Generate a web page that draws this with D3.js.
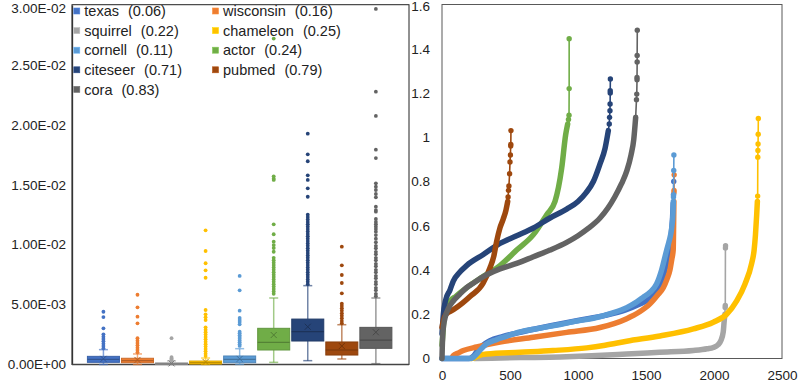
<!DOCTYPE html>
<html>
<head>
<meta charset="utf-8">
<script src="https://cdn.jsdelivr.net/npm/d3@7"></script>
<style>
  body { margin: 0; background: #fff; }
  svg text { font-family: "Liberation Sans", Arial, sans-serif; font-size: 13.5px; fill: #222; }
  svg .legend text { font-size: 14.5px; }
</style>
</head>
<body>
<script>
const names = ['texas', 'wisconsin', 'squirrel', 'chameleon', 'cornell', 'actor', 'citeseer', 'pubmed', 'cora'];
const homophily = [0.06, 0.16, 0.22, 0.25, 0.11, 0.24, 0.71, 0.79, 0.83];
const palette = ['#4472C4', '#ED7D31', '#A5A5A5', '#FFC000', '#5B9BD5', '#70AD47', '#264478', '#9E480E', '#636363'];

// box plot stats, same order as names
const q1 = [0.00018, 0.00015, 0.00001, 0.00004, 0.00015, 0.00121, 0.00196, 0.00079, 0.00135];
const median = [0.00043, 0.00032, 0.00005, 0.00015, 0.00042, 0.00185, 0.00274, 0.00121, 0.00204];
const q3 = [0.00068, 0.00052, 0.00013, 0.00029, 0.00071, 0.00302, 0.00379, 0.00188, 0.0031];
const mean = [0.00047, 0.00038, 0.00009, 0.00021, 0.00047, 0.00246, 0.00315, 0.00154, 0.00269];
const whiskerLo = [0, 0, 0, 0, 0.00001, 0.00018, 0.00032, 0.00046, 0.00007];
const whiskerHi = [0.00124, 0.00088, 0.0003, 0.00054, 0.00132, 0.00555, 0.00658, 0.00332, 0.00555];
const outliers = [
  [0.0044, 0.00396, 0.00302, 0.00252, 0.00232, 0.00213, 0.00194, 0.00174, 0.00154, 0.00135],
  [0.00582, 0.00477, 0.00399, 0.00344, 0.00219, 0.00199, 0.00179, 0.0016, 0.0014, 0.00121, 0.00102],
  [0.0022, 0.00062, 0.00052, 0.00042, 0.00035],
  [0.0112, 0.00947, 0.00845, 0.00786, 0.00724, 0.00455, 0.00419, 0.00394, 0.00371, 0.0031, 0.0029, 0.0027,
   0.0025, 0.0023, 0.0021, 0.0019, 0.0017, 0.0015, 0.0013, 0.0011, 0.0009, 0.0007],
  [0.00739, 0.00619, 0.00449, 0.00388, 0.00371, 0.00355, 0.00335, 0.00274, 0.0026, 0.00245, 0.0023, 0.00215,
   0.002, 0.00185, 0.0017, 0.00155],
  [0.0272, 0.0157, 0.0155, 0.0154, 0.0117, 0.01087, 0.01025, 0.00997, 0.00972, 0.00941, 0.0089, 0.0087, 0.0085,
   0.0083, 0.0081, 0.0079, 0.0077, 0.0075, 0.0073, 0.0071, 0.0069, 0.0067, 0.0065, 0.0063, 0.0061, 0.0059],
  [0.01926, 0.01754, 0.01696, 0.01579, 0.0154, 0.0147, 0.014, 0.0125, 0.0123, 0.0121, 0.0119, 0.0117, 0.0115,
   0.0113, 0.0111, 0.0109, 0.0107, 0.0105, 0.0103, 0.0101, 0.0099, 0.0097, 0.0095, 0.0093, 0.0091, 0.0089,
   0.0087, 0.0085, 0.0083, 0.0081, 0.0079, 0.0077, 0.0075, 0.0073, 0.0071, 0.0069, 0.0067],
  [0.00983, 0.00828, 0.00747, 0.0068, 0.00594, 0.00507, 0.00488, 0.00469, 0.00449, 0.00427, 0.00407, 0.00386,
   0.00363, 0.00344],
  [0.02967, 0.02277, 0.02074, 0.01793, 0.01723, 0.01512, 0.01484, 0.01456, 0.01423, 0.01395, 0.01317, 0.01289,
   0.01275, 0.01214, 0.0119, 0.0117, 0.0115, 0.0113, 0.01108, 0.0108, 0.0105, 0.0102, 0.0099, 0.0097, 0.0094,
   0.0092, 0.0089, 0.0087, 0.0084, 0.0082, 0.0079, 0.0077, 0.0074, 0.0072, 0.0069, 0.0067, 0.0064, 0.0062,
   0.0059, 0.0057]
];
const boxTicks = [0, 0.005, 0.01, 0.015, 0.02, 0.025, 0.03];
const boxTickLabels = ['0.00E+00', '5.00E-03', '1.00E-02', '1.50E-02', '2.00E-02', '2.50E-02', '3.00E-02'];

// sorted curves: [rank, value]; "Curve" is the dense part, "Tail" the few top points
const texasCurve = [[0, 0], [200, 0], [230, 0.01], [260, 0.035], [300, 0.06], [350, 0.08], [450, 0.1], [600, 0.122],
  [800, 0.148], [1000, 0.172], [1200, 0.195], [1350, 0.22], [1450, 0.245], [1530, 0.272], [1580, 0.31],
  [1620, 0.36], [1650, 0.43], [1670, 0.5], [1685, 0.56], [1695, 0.63], [1700, 0.7]];
const texasTail = [[1702, 0.74], [1704, 0.8]];
const wisconsinCurve = [[75, 0.004], [83, 0.013], [120, 0.025], [157, 0.036], [255, 0.052], [426, 0.074], [672, 0.096],
  [917, 0.118], [1162, 0.14], [1358, 0.18], [1450, 0.21], [1529, 0.247], [1590, 0.29], [1627, 0.32],
  [1655, 0.36], [1676, 0.4], [1690, 0.45], [1700, 0.49], [1703, 0.6], [1705, 0.71]];
const wisconsinTail = [[1706, 0.75], [1706, 0.76], [1707, 0.83]];
const squirrelCurve = [[240, 0], [574, 0.004], [868, 0.007], [1100, 0.012], [1358, 0.02], [1600, 0.028],
  [1848, 0.036], [1950, 0.044], [1995, 0.05], [2030, 0.062], [2050, 0.08], [2068, 0.12], [2075, 0.17], [2080, 0.2]];
const squirrelTail = [[2082, 0.23], [2083, 0.24], [2084, 0.5], [2085, 0.51]];
const chameleonCurve = [[215, 0], [240, 0.004], [270, 0.013], [328, 0.02], [574, 0.028], [816, 0.036], [1064, 0.048],
  [1200, 0.06], [1358, 0.078], [1603, 0.102], [1848, 0.134], [1995, 0.164], [2093, 0.2], [2167, 0.26],
  [2228, 0.337], [2277, 0.43], [2295, 0.49], [2305, 0.56], [2314, 0.65], [2319, 0.71]];
const chameleonTail = [[2321, 0.734], [2322, 0.91], [2323, 0.94], [2324, 0.97], [2325, 1.014], [2326, 1.085]];
const cornellCurve = [[0, 0], [206, 0], [230, 0.005], [255, 0.02], [290, 0.045], [328, 0.066], [400, 0.085],
  [451, 0.096], [574, 0.12], [700, 0.135], [868, 0.154], [1000, 0.17], [1113, 0.182], [1250, 0.205],
  [1358, 0.23], [1430, 0.255], [1480, 0.277], [1530, 0.3], [1578, 0.337], [1615, 0.4], [1652, 0.49],
  [1670, 0.53], [1689, 0.59], [1698, 0.65], [1701, 0.71]];
const cornellTail = [[1702, 0.73], [1703, 0.74], [1704, 0.85], [1705, 0.92]];
const actorCurve = [[0, 0.06], [5, 0.1], [15, 0.18], [35, 0.23], [59, 0.26], [100, 0.28], [181, 0.32], [302, 0.37],
  [426, 0.42], [549, 0.49], [672, 0.56], [770, 0.65], [831, 0.71], [880, 0.86], [909, 1.01], [924, 1.06]];
const actorTail = [[930, 1.08], [934, 1.1], [935, 1.22], [935, 1.445]];
const citeseerCurve = [[0, 0.11], [10, 0.2], [25, 0.26], [59, 0.31], [83, 0.35], [130, 0.39], [181, 0.42],
  [304, 0.47], [426, 0.52], [549, 0.555], [672, 0.59], [794, 0.635], [917, 0.675], [1000, 0.71], [1060, 0.75],
  [1113, 0.8], [1162, 0.88], [1199, 0.95], [1223, 1.03]];
const citeseerTail = [[1230, 1.06], [1232, 1.09], [1235, 1.12], [1236, 1.15], [1237, 1.2], [1237, 1.21], [1238, 1.263]];
const pubmedCurve = [[0, 0.14], [10, 0.17], [30, 0.2], [83, 0.22], [150, 0.25], [206, 0.28], [302, 0.34],
  [353, 0.41], [380, 0.46], [402, 0.53], [426, 0.59], [450, 0.63], [470, 0.67], [483, 0.71]];
const pubmedTail = [[486, 0.73], [489, 0.76], [492, 0.78], [497, 0.835], [500, 0.888], [503, 0.92], [505, 0.96],
  [506, 0.968], [507, 1.03]];
const coraCurve = [[0, 0], [2, 0.05], [5, 0.1], [12, 0.15], [25, 0.19], [50, 0.23], [83, 0.26], [130, 0.29],
  [181, 0.32], [230, 0.34], [304, 0.37], [426, 0.405], [549, 0.43], [672, 0.46], [794, 0.49], [917, 0.525],
  [1000, 0.555], [1080, 0.59], [1162, 0.635], [1220, 0.68], [1270, 0.73], [1320, 0.79], [1360, 0.85],
  [1390, 0.92], [1410, 0.99], [1424, 1.09]];
const coraTail = [[1430, 1.17], [1432, 1.195], [1434, 1.26], [1434, 1.27], [1435, 1.34], [1435, 1.37], [1436, 1.484]];

const curveTicksX = [0, 500, 1000, 1500, 2000, 2500];
const curveTicksY = [0, 0.2, 0.4, 0.6, 0.8, 1, 1.2, 1.4, 1.6];

const curves = [texasCurve, wisconsinCurve, squirrelCurve, chameleonCurve, cornellCurve, actorCurve, citeseerCurve, pubmedCurve, coraCurve];
const tails = [texasTail, wisconsinTail, squirrelTail, chameleonTail, cornellTail, actorTail, citeseerTail, pubmedTail, coraTail];

const svg = d3.select('body').append('svg')
  .attr('width', 798)
  .attr('height', 392);

// ---------- left: box plots ----------
const left = { x0: 72, x1: 409, y0: 4.7, y1: 364.5 };
const yL = d3.scaleLinear().domain([0, 0.03]).range([left.y1, 5]);
const xL = d3.scaleBand().domain(names).range([86.4, 392.9]).paddingInner(0.06).paddingOuter(0.03);

svg.append('rect')
  .attr('x', left.x0).attr('y', left.y0)
  .attr('width', left.x1 - left.x0).attr('height', left.y1 - left.y0)
  .attr('fill', 'none').attr('stroke', '#222').attr('stroke-width', 1);

svg.append('g')
  .attr('transform', `translate(${left.x0},0)`)
  .call(d3.axisLeft(yL).tickValues(boxTicks).tickSize(0).tickPadding(6).tickFormat((d, i) => boxTickLabels[i]))
  .call(g => g.select('.domain').attr('stroke', '#333').attr('stroke-width', 1.3))
  .call(g => g.selectAll('text').attr('font-size', null).attr('font-family', null))
  .call(g => g.selectAll('.tick text').filter(d => d === 0.03).attr('dy', '0.52em'));

svg.append('line')
  .attr('x1', left.x0).attr('x2', left.x1)
  .attr('y1', left.y1).attr('y2', left.y1)
  .attr('stroke', '#444').attr('stroke-width', 1.5);

const bw = xL.bandwidth();
const boxes = svg.append('g').selectAll('g')
  .data(names.map((name, i) => ({ name, i, color: palette[i] })))
  .join('g')
  .attr('transform', d => `translate(${xL(d.name) + bw / 2},0)`);

// whiskers
boxes.append('line')
  .attr('y1', d => yL(whiskerLo[d.i])).attr('y2', d => yL(q1[d.i]))
  .attr('stroke', d => d.color).attr('stroke-opacity', 0.65).attr('stroke-width', 1.5);
boxes.append('line')
  .attr('y1', d => yL(q3[d.i])).attr('y2', d => yL(whiskerHi[d.i]))
  .attr('stroke', d => d.color).attr('stroke-opacity', 0.65).attr('stroke-width', 1.5);
for (const arr of [whiskerLo, whiskerHi]) {
  boxes.append('line')
    .attr('x1', -4.5).attr('x2', 4.5)
    .attr('y1', d => yL(arr[d.i])).attr('y2', d => yL(arr[d.i]))
    .attr('stroke', d => d.color).attr('stroke-opacity', 0.65).attr('stroke-width', 1.5);
}

boxes.append('rect')
  .attr('x', -bw / 2).attr('width', bw)
  .attr('y', d => yL(q3[d.i]))
  .attr('height', d => Math.max(1, yL(q1[d.i]) - yL(q3[d.i])))
  .attr('fill', d => d.color)
  .attr('stroke', d => d3.color(d.color).darker(0.4))
  .attr('stroke-width', 1);

boxes.append('line')
  .attr('x1', -bw / 2).attr('x2', bw / 2)
  .attr('y1', d => yL(median[d.i])).attr('y2', d => yL(median[d.i]))
  .attr('stroke', d => d3.color(d.color).darker(0.8)).attr('stroke-width', 1.2);

// mean marker (x)
boxes.append('path')
  .attr('d', d => {
    const y = yL(mean[d.i]);
    return `M-3,${y - 3}L3,${y + 3}M-3,${y + 3}L3,${y - 3}`;
  })
  .attr('stroke', d => d3.color(d.color).darker(0.9)).attr('stroke-width', 1).attr('fill', 'none');

boxes.selectAll('circle')
  .data(d => outliers[d.i].map(v => ({ v, color: d.color })))
  .join('circle')
  .attr('cx', 0).attr('cy', d => yL(d.v)).attr('r', 1.9)
  .attr('fill', d => d.color);

// legend
const legend = svg.append('g').attr('class', 'legend').selectAll('g')
  .data(names.map((name, i) => ({ name, i, color: palette[i] })))
  .join('g')
  .attr('transform', d => `translate(${d.i % 2 ? 212.5 : 73.8},${11 + Math.floor(d.i / 2) * 19.6})`);
legend.append('rect')
  .attr('x', 0).attr('y', -3).attr('width', 6).attr('height', 6)
  .attr('fill', d => d.color).attr('stroke', d => d3.color(d.color).brighter(0.4)).attr('stroke-width', 0.6);
const lt = legend.append('text').attr('x', 10.5).attr('dy', '0.36em');
lt.append('tspan').text(d => d.name);
lt.append('tspan').attr('dx', 9).text(d => `(${homophily[d.i].toFixed(2)})`);

// ---------- right: sorted curves ----------
const right = { x0: 442, x1: 782, y0: 4.5, y1: 358.5 };
const xR = d3.scaleLinear().domain([0, 2500]).range([right.x0, right.x1]);
const yR = d3.scaleLinear().domain([0, 1.6]).range([right.y1, right.y0]);

svg.append('rect')
  .attr('x', right.x0).attr('y', right.y0)
  .attr('width', right.x1 - right.x0).attr('height', right.y1 - right.y0)
  .attr('fill', 'none').attr('stroke', '#595959').attr('stroke-width', 1);

svg.append('g')
  .attr('transform', `translate(${right.x0},0)`)
  .call(d3.axisLeft(yR).tickValues(curveTicksY).tickSize(0).tickPadding(12).tickFormat(d => String(d)))
  .call(g => g.select('.domain').remove())
  .call(g => g.selectAll('text').attr('font-size', null).attr('font-family', null))
  .call(g => g.selectAll('.tick text').filter(d => d === 1.6).attr('dy', '0.48em'));

svg.append('g')
  .attr('transform', `translate(0,${right.y1})`)
  .call(d3.axisBottom(xR).tickValues(curveTicksX).tickSize(0).tickPadding(12).tickFormat(d => String(d)))
  .call(g => g.select('.domain').remove())
  .call(g => g.selectAll('text').attr('font-size', null).attr('font-family', null));

const body = d3.line().x(d => xR(d[0])).y(d => yR(d[1])).curve(d3.curveMonotoneX);
const thin = d3.line().x(d => xR(d[0])).y(d => yR(d[1]));

const series = svg.append('g').selectAll('g')
  .data(names.map((name, i) => ({ name, color: palette[i], pts: curves[i], tail: tails[i] })))
  .join('g');

series.append('path')
  .attr('d', d => body(d.pts))
  .attr('fill', 'none').attr('stroke', d => d.color)
  .attr('stroke-width', 5.5).attr('stroke-linecap', 'round').attr('stroke-linejoin', 'round');

series.append('path')
  .attr('d', d => thin([d.pts[d.pts.length - 1], ...d.tail]))
  .attr('fill', 'none').attr('stroke', d => d.color).attr('stroke-width', 1.6);

series.selectAll('circle')
  .data(d => d.tail.map(p => ({ p, color: d.color })))
  .join('circle')
  .attr('cx', d => xR(d.p[0])).attr('cy', d => yR(d.p[1])).attr('r', 2.7)
  .attr('fill', d => d.color);
</script>
</body>
</html>
